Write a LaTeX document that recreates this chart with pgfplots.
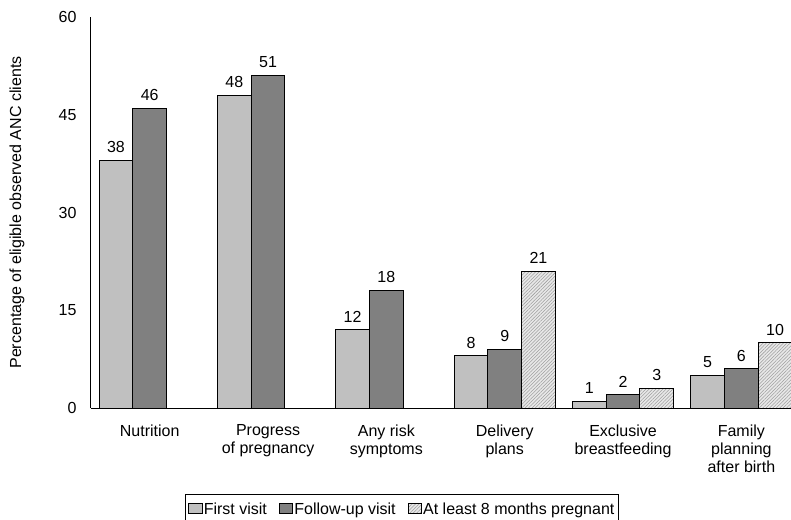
\documentclass[border=0pt]{standalone}
\usepackage{pgfplots}
\pgfplotsset{compat=1.18}
\usepackage{fontspec}
\setmainfont{Liberation Sans}
\usetikzlibrary{patterns.meta,calc}

\definecolor{firstv}{HTML}{C0C0C0}
\definecolor{follow}{HTML}{808080}

\begin{document}
\begin{tikzpicture}
\begin{axis}[
    name=ax,
    scale only axis,
    width=532.5pt, height=293.25pt,
    ybar=0pt, bar width=25.3pt,
    xmin=-0.5, xmax=5.5,
    ymin=0, ymax=60,
    ytick={0,15,30,45,60},
    xtick={0,1,2,3,4,5},
    xticklabels={Nutrition,{Progress\\of pregnancy},{Any risk\\symptoms},{Delivery\\plans},{Exclusive\\breastfeeding},{Family\\planning\\after birth}},
    xticklabel style={align=center, anchor=north, yshift=-9pt},
    yticklabel style={xshift=-7pt},
    major tick length=0pt,
    axis x line=bottom, axis y line=left,
    axis line style={-, line width=0.75pt},
    axis on top,
    /pgf/number format/assume math mode=true,
    font=\fontsize{12pt}{13.5pt}\selectfont,
    ylabel={Percentage of eligible observed ANC clients},
    ylabel style={at={(axis description cs:-0.1035,0.5)}, anchor=center, font=\fontsize{12pt}{13.5pt}\selectfont},
    nodes near coords,
    every node near coord/.append style={font=\fontsize{12pt}{13.5pt}\selectfont, yshift=2pt},
    legend columns=3,
    legend style={at={(0.4387,-0.22)}, anchor=north, draw=black, line width=0.6pt,
        font=\fontsize{12pt}{13.5pt}\selectfont, inner xsep=2pt, inner ysep=4pt,
        nodes={inner xsep=1pt},
        /tikz/every even column/.append style={column sep=8pt}},
    legend image code/.code={\draw[#1, line width=0.6pt] (0pt,-3.5pt) rectangle (10pt,4pt);},
    legend cell align=left,
]
\addplot[fill=firstv, draw=black, line width=0.75pt] coordinates {(0,38) (1,48) (2,12) (3,8) (4,1) (5,5)};
\addlegendentry{First visit}
\addplot[fill=follow, draw=black, line width=0.75pt] coordinates {(0,46) (1,51) (2,18) (3,9) (4,2) (5,6)};
\addlegendentry{Follow-up visit}
\addplot[fill=gray!18, draw=black, line width=0.75pt,
    postaction={pattern={Lines[angle=45,distance=1.8pt,line width=0.4pt]}, pattern color=gray!75}]
    coordinates {(3,21) (4,3) (5,10)};
\addlegendentry{At least 8 months pregnant}
\coordinate (o) at (rel axis cs:0,0);
\end{axis}
\pgfresetboundingbox
\useasboundingbox ($(o)+(-67.9pt,-83.25pt)$) rectangle ++(593.25pt,389.25pt);
\end{tikzpicture}
\end{document}
